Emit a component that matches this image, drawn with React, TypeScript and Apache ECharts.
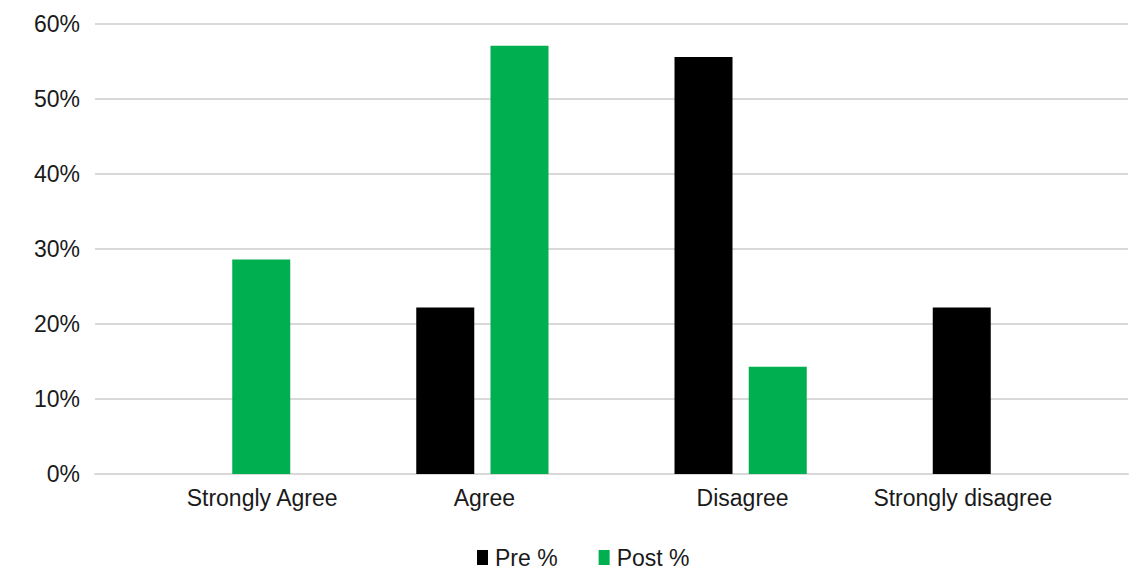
import React, { useEffect, useRef } from "react";
import * as echarts from "echarts";

const categories = ["Strongly Agree", "Agree", "Disagree", "Strongly disagree"];
const prePct: (number | null)[] = [null, 22.2, 55.6, 22.2];
const postPct: (number | null)[] = [28.6, 57.1, 14.3, null];
const yTicks = [0, 10, 20, 30, 40, 50, 60];

const FONT = "'Liberation Sans', Arial, sans-serif";
const TEXT = "#1a1a1a";
const FS = 23;

export default function App() {
  const ref = useRef<HTMLDivElement>(null);

  useEffect(() => {
    if (!ref.current) return;
    const chart = echarts.init(ref.current, null, { renderer: "svg" });
    const labelKeys = ["sa", "ag", "di", "sd"];
    const base = { fontFamily: FONT, fontSize: FS, color: TEXT };
    chart.setOption({
      animation: false,
      grid: { left: 95, right: 19, top: 24, bottom: 98 },
      legend: {
        top: 541,
        left: 472,
        itemWidth: 11,
        itemHeight: 15,
        itemGap: 41,
        icon: "rect",
        textStyle: { fontFamily: FONT, fontSize: FS, color: TEXT, padding: [0, 0, 0, 2] },
        data: ["Pre %", "Post %"],
      },
      xAxis: {
        type: "category",
        data: categories,
        axisLine: { show: true, lineStyle: { color: "#d9d9d9", width: 2 } },
        axisTick: { show: false },
        axisLabel: {
          margin: 12,
          interval: 0,
          formatter: (v: string) => `{${labelKeys[categories.indexOf(v)]}|${v}}`,
          rich: {
            sa: { ...base, padding: [0, 0, 0, 76] },
            ag: { ...base, padding: [0, 0, 0, 4] },
            di: { ...base, padding: [0, 0, 0, 4] },
            sd: { ...base, padding: [0, 72, 0, 0] },
          },
        },
      },
      yAxis: {
        type: "value",
        min: yTicks[0],
        max: yTicks[yTicks.length - 1],
        interval: 10,
        axisLine: { show: false },
        axisTick: { show: false },
        splitLine: { lineStyle: { color: "#d9d9d9", width: 2 } },
        axisLabel: {
          margin: 15,
          fontFamily: FONT,
          fontSize: FS,
          color: TEXT,
          formatter: "{value}%",
        },
      },
      series: [
        {
          name: "Pre %",
          type: "bar",
          data: prePct,
          itemStyle: { color: "#000000" },
          barWidth: 58,
          barGap: "28%",
        },
        {
          name: "Post %",
          type: "bar",
          data: postPct,
          itemStyle: { color: "#00b050" },
          barWidth: 58,
          barGap: "28%",
        },
      ],
    });
    return () => chart.dispose();
  }, []);

  return (
    <div
      ref={ref}
      style={{ position: "fixed", left: 0, top: 0, width: 1147, height: 572, background: "#fff" }}
    />
  );
}
